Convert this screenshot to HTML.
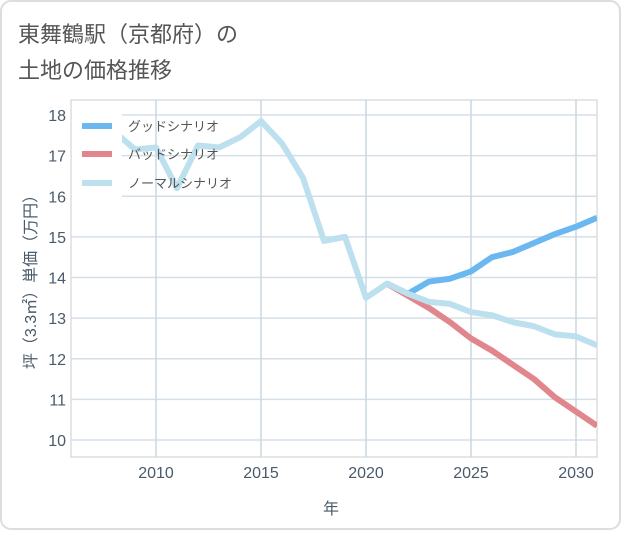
<!DOCTYPE html>
<html><head><meta charset="utf-8"><style>
body{margin:0;background:#fff;}
#wrap{position:relative;width:621px;height:530px;font-family:"Liberation Sans","Noto Sans CJK JP",sans-serif;}
</style></head><body>
<div id="wrap">
<svg id="chart" width="621" height="530" xmlns="http://www.w3.org/2000/svg">
<rect x="1" y="1" width="619" height="528" rx="10" fill="#fff" stroke="#ddd" stroke-width="2"/>
<text x="18" y="42" font-size="22" fill="#555">東舞鶴駅（京都府）の</text>
<text x="18" y="78" font-size="22" fill="#555">土地の価格推移</text>
<rect x="71" y="100" width="526" height="357" fill="#fff" stroke="#ccc"/>
<g id="grid"></g>
<g id="series"></g>
<g id="legend">
<rect x="72" y="101" width="50" height="96" fill="#fff"/>
<rect x="122" y="101" width="130" height="96" fill="#fff" opacity="0"/>
<line x1="82" y1="126" x2="112" y2="126" stroke="#6bb8f0" stroke-width="6"/>
<text x="128" y="131" font-size="13" fill="#555">グッドシナリオ</text>
<line x1="82" y1="154" x2="112" y2="154" stroke="#e0868c" stroke-width="6"/>
<text x="128" y="159" font-size="13" fill="#555">バッドシナリオ</text>
<line x1="82" y1="183" x2="112" y2="183" stroke="#bde0ef" stroke-width="6"/>
<text x="128" y="188" font-size="13" fill="#555">ノーマルシナリオ</text>
</g>
<text x="331" y="514" font-size="16" fill="#4a5a6a" text-anchor="middle">年</text>
<text transform="translate(36,278) rotate(-90)" font-size="16" fill="#4a5a6a" text-anchor="middle">坪（3.3㎡）単価（万円）</text>
</svg>
</div>
<script>
const xTicks=[2010,2015,2020,2025,2030];
const yTicks=[10,11,12,13,14,15,16,17,18];
const normalYears=[2008,2009,2010,2011,2012,2013,2014,2015,2016,2017,2018,2019,2020,2021,2022,2023,2024,2025,2026,2027,2028,2029,2030,2031];
const normalValues=[17.6,17.15,17.2,16.2,17.25,17.2,17.45,17.85,17.3,16.45,14.9,15.0,13.5,13.85,13.6,13.4,13.35,13.15,13.07,12.9,12.8,12.6,12.55,12.33];
const scenYears=[2021,2022,2023,2024,2025,2026,2027,2028,2029,2030,2031];
const goodValues=[13.85,13.6,13.9,13.97,14.15,14.5,14.63,14.85,15.07,15.25,15.47];
const badValues=[13.85,13.55,13.25,12.9,12.5,12.2,11.85,11.5,11.05,10.7,10.35];
const NS='http://www.w3.org/2000/svg';
function xs(y){return 156+(y-2010)*21;}
function ys(v){return 440-(v-10)*40.625;}
const grid=document.getElementById('grid');
yTicks.forEach(t=>{
 const l=document.createElementNS(NS,'line');
 l.setAttribute('x1',71);l.setAttribute('x2',597);l.setAttribute('y1',ys(t));l.setAttribute('y2',ys(t));
 l.setAttribute('stroke','#d5dfe8');l.setAttribute('stroke-width','1.5');
 
 
 grid.appendChild(l);
 const tx=document.createElementNS(NS,'text');
 tx.setAttribute('x',66);tx.setAttribute('y',ys(t)+6);tx.setAttribute('text-anchor','end');
 tx.setAttribute('font-size','16');tx.setAttribute('fill','#4a5a6a');tx.textContent=t;
 
 
 grid.appendChild(tx);
});
xTicks.forEach(t=>{
 const l=document.createElementNS(NS,'line');
 l.setAttribute('x1',xs(t));l.setAttribute('x2',xs(t));l.setAttribute('y1',100);l.setAttribute('y2',457);
 l.setAttribute('stroke','#c8d8e4');l.setAttribute('stroke-width','1.5');
 
 
 grid.appendChild(l);
 const tx=document.createElementNS(NS,'text');
 tx.setAttribute('x',xs(t));tx.setAttribute('y',478);tx.setAttribute('text-anchor','middle');
 tx.setAttribute('font-size','16');tx.setAttribute('fill','#4a5a6a');tx.textContent=t;
 
 
 grid.appendChild(tx);
});
const ser=document.getElementById('series');
function line(years,vals,color,name){
 const p=document.createElementNS(NS,'polyline');
 p.setAttribute('points',years.map((y,i)=>xs(y)+','+ys(vals[i])).join(' '));
 p.setAttribute('fill','none');p.setAttribute('stroke',color);p.setAttribute('stroke-width','6');
 p.setAttribute('stroke-linejoin','round');
 
 
 ser.appendChild(p);
}
const cp=document.createElementNS(NS,'clipPath');cp.setAttribute('id','clip');
const cr=document.createElementNS(NS,'rect');cr.setAttribute('x',71);cr.setAttribute('y',100);cr.setAttribute('width',526);cr.setAttribute('height',357);
cp.appendChild(cr);document.getElementById('chart').appendChild(cp);
ser.setAttribute('clip-path','url(#clip)');
line(scenYears,goodValues,'#6bb8f0','good-scenario-line');
line(scenYears,badValues,'#e0868c','bad-scenario-line');
line(normalYears,normalValues,'#bde0ef','normal-scenario-line');
</script>
</body></html>
